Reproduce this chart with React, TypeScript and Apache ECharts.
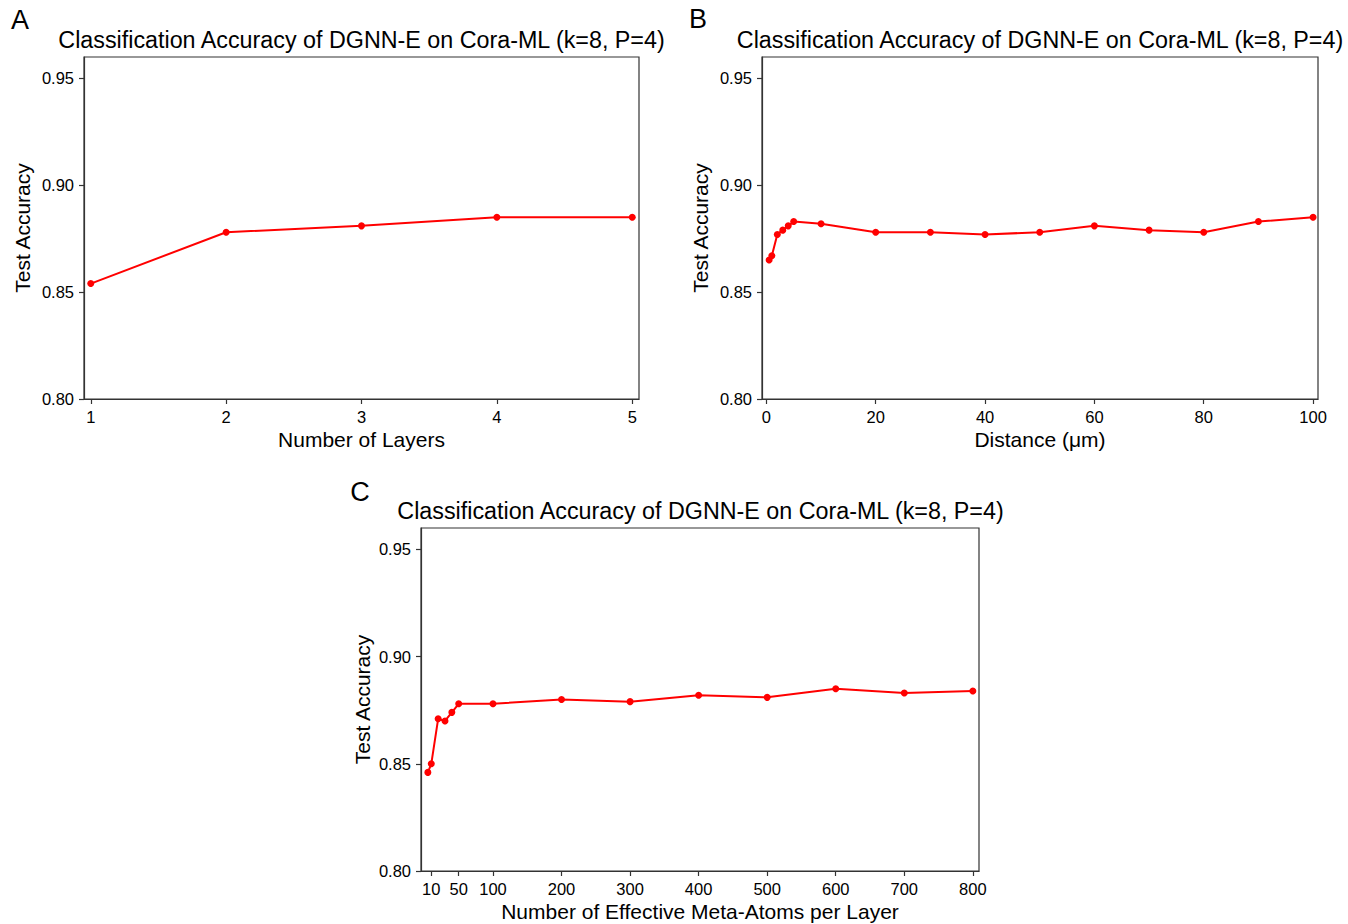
import React, { useEffect, useRef } from "react";
import * as echarts from "echarts";

const layers = [1, 2, 3, 4, 5];
const layersAcc = [0.854, 0.878, 0.881, 0.885, 0.885];

const distance = [0.5, 1, 2, 3, 4, 5, 10, 20, 30, 40, 50, 60, 70, 80, 90, 100];
const distanceAcc = [0.865, 0.867, 0.877, 0.879, 0.881, 0.883, 0.882, 0.878, 0.878, 0.877, 0.878, 0.881, 0.879, 0.878, 0.883, 0.885];

const atoms = [5, 10, 20, 30, 40, 50, 100, 200, 300, 400, 500, 600, 700, 800];
const atomsAcc = [0.846, 0.850, 0.871, 0.870, 0.874, 0.878, 0.878, 0.880, 0.879, 0.882, 0.881, 0.885, 0.883, 0.884];

const yTicks = [0.8, 0.85, 0.9, 0.95];
const layerTicks = [1, 2, 3, 4, 5];
const distanceTicks = [0, 20, 40, 60, 80, 100];
const atomTicks = [10, 50, 100, 200, 300, 400, 500, 600, 700, 800];

const TITLE = "Classification Accuracy of DGNN-E on Cora-ML (k=8, P=4)";
const FONT = "'Liberation Sans', Arial, Helvetica, sans-serif";
const INK = "#000";
const AXIS = "#333";

export default function App() {
  const ref = useRef<HTMLDivElement>(null);

  useEffect(() => {
    if (!ref.current) return;
    const chart = echarts.init(ref.current, undefined, { renderer: "svg" });

    const grids = [
      { left: 84, top: 57, width: 555, height: 342 },
      { left: 762, top: 57, width: 556, height: 342 },
      { left: 421, top: 528, width: 558, height: 343 },
    ].map((g) => ({
      ...g,
      show: true,
      borderColor: AXIS,
      borderWidth: 1.2,
      backgroundColor: "transparent",
      containLabel: false,
    }));

    const xDefs = [
      { min: 0.95, max: 5.05, ticks: layerTicks, name: "Number of Layers" },
      { min: -0.8, max: 100.9, ticks: distanceTicks, name: "Distance (μm)" },
      { min: -5, max: 809, ticks: atomTicks, name: "Number of Effective Meta-Atoms per Layer" },
    ];

    const xAxis = xDefs.map((d, i) => ({
      type: "value",
      gridIndex: i,
      min: d.min,
      max: d.max,
      name: d.name,
      nameLocation: "middle",
      nameGap: 30,
      nameTextStyle: { fontSize: 21, color: INK, fontFamily: FONT },
      axisLine: { show: true, onZero: false, lineStyle: { color: AXIS, width: 1.2 } },
      axisTick: { show: true, length: 5, customValues: d.ticks, lineStyle: { color: AXIS, width: 1.2 } },
      axisLabel: {
        customValues: d.ticks,
        fontSize: 16.5,
        color: INK,
        fontFamily: FONT,
        margin: 9,
        formatter: (v: number) => String(v),
      },
      splitLine: { show: false },
    }));

    const yGaps = [51, 51, 48];
    const yAxis = [0, 1, 2].map((i) => ({
      type: "value",
      gridIndex: i,
      min: 0.8,
      max: 0.96,
      name: "Test Accuracy",
      nameLocation: "middle",
      nameGap: yGaps[i],
      nameRotate: 90,
      nameTextStyle: { fontSize: 21, color: INK, fontFamily: FONT },
      axisLine: { show: true, onZero: false, lineStyle: { color: AXIS, width: 1.2 } },
      axisTick: { show: true, length: 5, customValues: yTicks, lineStyle: { color: AXIS, width: 1.2 } },
      axisLabel: {
        customValues: yTicks,
        fontSize: 16.5,
        color: INK,
        fontFamily: FONT,
        margin: 10,
        formatter: (v: number) => v.toFixed(2),
      },
      splitLine: { show: false },
    }));

    const datasets: [number[], number[]][] = [
      [layers, layersAcc],
      [distance, distanceAcc],
      [atoms, atomsAcc],
    ];

    const series = datasets.map(([xs, ys], i) => ({
      type: "line",
      xAxisIndex: i,
      yAxisIndex: i,
      data: xs.map((x, j) => [x, ys[j]]),
      symbol: "circle",
      symbolSize: 7,
      showSymbol: true,
      lineStyle: { color: "#ff0000", width: 2 },
      itemStyle: { color: "#ff0000" },
      z: 3,
    }));

    const titlePos = [
      [361.5, 40],
      [1040, 40],
      [700.5, 511],
    ];
    const letters = [
      ["A", 20, 20],
      ["B", 698, 19],
      ["C", 360, 492],
    ];

    const graphic = [
      ...titlePos.map(([x, y]) => ({
        type: "text",
        x,
        y,
        style: {
          text: TITLE,
          fontSize: 23.3,
          fontFamily: FONT,
          fill: INK,
          align: "center",
          verticalAlign: "middle",
        },
      })),
      ...letters.map(([t, x, y]) => ({
        type: "text",
        x: x as number,
        y: y as number,
        style: {
          text: t as string,
          fontSize: 27,
          fontFamily: FONT,
          fill: "#000",
          align: "center",
          verticalAlign: "middle",
        },
      })),
    ];

    chart.setOption({
      animation: false,
      backgroundColor: "#ffffff",
      textStyle: { fontFamily: FONT },
      grid: grids,
      xAxis,
      yAxis,
      series,
      graphic,
    });

    return () => {
      chart.dispose();
    };
  }, []);

  return (
    <div
      ref={ref}
      style={{ position: "absolute", left: 0, top: 0, width: 1348, height: 924 }}
    />
  );
}
